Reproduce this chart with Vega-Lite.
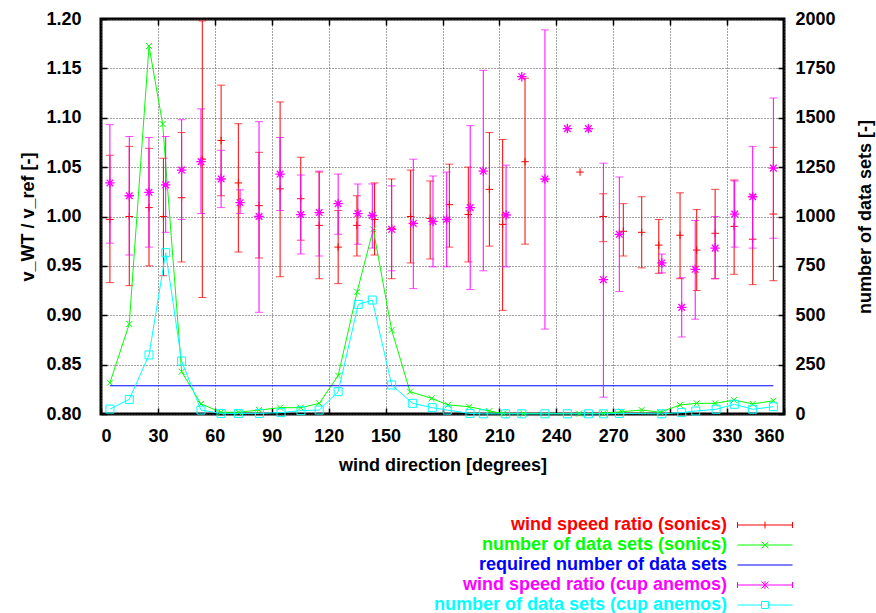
{
  "$schema": "https://vega.github.io/schema/vega-lite/v6.json",
  "width": 683,
  "height": 395,
  "autosize": {"type": "none"},
  "padding": {"left": 101, "top": 19, "right": 92, "bottom": 199},
  "config": {
    "font": "Liberation Sans",
    "view": {"stroke": "black", "strokeWidth": 3},
    "axis": {
      "labelFont": "Liberation Sans", "labelFontSize": 18, "labelFontWeight": "bold", "labelColor": "black",
      "titleFont": "Liberation Sans", "titleFontSize": 18, "titleFontWeight": "bold", "titleColor": "black",
      "domain": false, "tickColor": "black", "tickWidth": 1.5, "tickSize": -6,
      "gridColor": "#444444", "gridDash": [1, 2], "gridWidth": 1
    },
    "legend": {
      "orient": "none", "legendX": 655, "legendY": 497, "padding": 0, "rowPadding": 2,
      "labelOffset": -47, "labelAlign": "right", "symbolSize": 100, "symbolStrokeWidth": 1,
      "labelFont": "Liberation Sans", "labelFontSize": 18, "labelFontWeight": "bold", "labelLimit": 500
    }
  },
  "datasets": {
    "sonic": [
      {"dir": 4.7, "mean": 0.997, "low": 0.933, "high": 1.062, "series": "wind speed ratio (sonics)"},
      {"dir": 14.9, "mean": 1.000, "low": 0.930, "high": 1.071, "series": "wind speed ratio (sonics)"},
      {"dir": 25.3, "mean": 1.009, "low": 0.950, "high": 1.069, "series": "wind speed ratio (sonics)"},
      {"dir": 32.9, "mean": 1.000, "low": 0.940, "high": 1.059, "series": "wind speed ratio (sonics)"},
      {"dir": 42.5, "mean": 1.019, "low": 0.954, "high": 1.085, "series": "wind speed ratio (sonics)"},
      {"dir": 53.4, "mean": 1.058, "low": 0.918, "high": 1.198, "series": "wind speed ratio (sonics)"},
      {"dir": 63.3, "mean": 1.077, "low": 1.021, "high": 1.133, "series": "wind speed ratio (sonics)"},
      {"dir": 72.4, "mean": 1.034, "low": 0.964, "high": 1.094, "series": "wind speed ratio (sonics)"},
      {"dir": 83.3, "mean": 1.011, "low": 0.958, "high": 1.065, "series": "wind speed ratio (sonics)"},
      {"dir": 94.4, "mean": 1.028, "low": 0.939, "high": 1.116, "series": "wind speed ratio (sonics)"},
      {"dir": 105.3, "mean": 1.018, "low": 0.976, "high": 1.060, "series": "wind speed ratio (sonics)"},
      {"dir": 115.0, "mean": 0.991, "low": 0.937, "high": 1.045, "series": "wind speed ratio (sonics)"},
      {"dir": 125.0, "mean": 0.969, "low": 0.932, "high": 1.006, "series": "wind speed ratio (sonics)"},
      {"dir": 134.9, "mean": 0.991, "low": 0.960, "high": 1.021, "series": "wind speed ratio (sonics)"},
      {"dir": 144.2, "mean": 0.997, "low": 0.961, "high": 1.034, "series": "wind speed ratio (sonics)"},
      {"dir": 153.2, "mean": 0.988, "low": 0.937, "high": 1.038, "series": "wind speed ratio (sonics)"},
      {"dir": 163.2, "mean": 1.000, "low": 0.953, "high": 1.047, "series": "wind speed ratio (sonics)"},
      {"dir": 173.5, "mean": 0.998, "low": 0.957, "high": 1.036, "series": "wind speed ratio (sonics)"},
      {"dir": 183.6, "mean": 1.012, "low": 0.969, "high": 1.053, "series": "wind speed ratio (sonics)"},
      {"dir": 193.6, "mean": 1.002, "low": 0.954, "high": 1.050, "series": "wind speed ratio (sonics)"},
      {"dir": 204.7, "mean": 1.0275, "low": 0.970, "high": 1.085, "series": "wind speed ratio (sonics)"},
      {"dir": 211.7, "mean": 0.992, "low": 0.905, "high": 1.078, "series": "wind speed ratio (sonics)"},
      {"dir": 223.5, "mean": 1.0555, "low": 0.972, "high": 1.140, "series": "wind speed ratio (sonics)"},
      {"dir": 252.5, "mean": 1.045, "low": null, "high": null, "series": "wind speed ratio (sonics)"},
      {"dir": 264.7, "mean": 1.000, "low": 0.9745, "high": 1.023, "series": "wind speed ratio (sonics)"},
      {"dir": 275.3, "mean": 0.985, "low": 0.960, "high": 1.013, "series": "wind speed ratio (sonics)"},
      {"dir": 285.0, "mean": 0.984, "low": 0.948, "high": 1.020, "series": "wind speed ratio (sonics)"},
      {"dir": 294.0, "mean": 0.971, "low": 0.9425, "high": 0.997, "series": "wind speed ratio (sonics)"},
      {"dir": 305.2, "mean": 0.981, "low": 0.937, "high": 1.024, "series": "wind speed ratio (sonics)"},
      {"dir": 314.0, "mean": 0.966, "low": 0.925, "high": 1.007, "series": "wind speed ratio (sonics)"},
      {"dir": 323.7, "mean": 0.983, "low": 0.937, "high": 1.0275, "series": "wind speed ratio (sonics)"},
      {"dir": 333.7, "mean": 0.990, "low": 0.9415, "high": 1.037, "series": "wind speed ratio (sonics)"},
      {"dir": 343.5, "mean": 0.977, "low": 0.931, "high": 1.022, "series": "wind speed ratio (sonics)"},
      {"dir": 354.4, "mean": 1.0025, "low": 0.935, "high": 1.070, "series": "wind speed ratio (sonics)"}
    ],
    "cup": [
      {"dir": 4.7, "mean": 1.034, "low": 0.973, "high": 1.093, "series": "wind speed ratio (cup anemos)"},
      {"dir": 14.9, "mean": 1.021, "low": 0.961, "high": 1.081, "series": "wind speed ratio (cup anemos)"},
      {"dir": 25.3, "mean": 1.0245, "low": 0.969, "high": 1.080, "series": "wind speed ratio (cup anemos)"},
      {"dir": 34.1, "mean": 1.032, "low": 0.984, "high": 1.081, "series": "wind speed ratio (cup anemos)"},
      {"dir": 42.5, "mean": 1.047, "low": 0.997, "high": 1.098, "series": "wind speed ratio (cup anemos)"},
      {"dir": 52.7, "mean": 1.0555, "low": 1.003, "high": 1.109, "series": "wind speed ratio (cup anemos)"},
      {"dir": 63.3, "mean": 1.038, "low": 1.009, "high": 1.067, "series": "wind speed ratio (cup anemos)"},
      {"dir": 73.3, "mean": 1.014, "low": 1.003, "high": 1.027, "series": "wind speed ratio (cup anemos)"},
      {"dir": 83.3, "mean": 1.000, "low": 0.903, "high": 1.096, "series": "wind speed ratio (cup anemos)"},
      {"dir": 94.4, "mean": 1.043, "low": 1.006, "high": 1.080, "series": "wind speed ratio (cup anemos)"},
      {"dir": 105.3, "mean": 1.002, "low": 0.962, "high": 1.042, "series": "wind speed ratio (cup anemos)"},
      {"dir": 115.0, "mean": 1.004, "low": 0.960, "high": 1.046, "series": "wind speed ratio (cup anemos)"},
      {"dir": 125.0, "mean": 1.013, "low": 0.982, "high": 1.043, "series": "wind speed ratio (cup anemos)"},
      {"dir": 135.4, "mean": 1.003, "low": 0.972, "high": 1.033, "series": "wind speed ratio (cup anemos)"},
      {"dir": 143.0, "mean": 1.001, "low": 0.968, "high": 1.033, "series": "wind speed ratio (cup anemos)"},
      {"dir": 153.2, "mean": 0.987, "low": 0.945, "high": 1.031, "series": "wind speed ratio (cup anemos)"},
      {"dir": 164.6, "mean": 0.993, "low": 0.927, "high": 1.058, "series": "wind speed ratio (cup anemos)"},
      {"dir": 175.0, "mean": 0.995, "low": 0.949, "high": 1.041, "series": "wind speed ratio (cup anemos)"},
      {"dir": 182.2, "mean": 0.997, "low": 0.949, "high": 1.045, "series": "wind speed ratio (cup anemos)"},
      {"dir": 194.6, "mean": 1.009, "low": 0.926, "high": 1.092, "series": "wind speed ratio (cup anemos)"},
      {"dir": 201.5, "mean": 1.046, "low": 0.945, "high": 1.148, "series": "wind speed ratio (cup anemos)"},
      {"dir": 213.5, "mean": 1.0015, "low": 0.949, "high": 1.052, "series": "wind speed ratio (cup anemos)"},
      {"dir": 221.8, "mean": 1.1416, "low": null, "high": null, "series": "wind speed ratio (cup anemos)"},
      {"dir": 234.0, "mean": 1.038, "low": 0.886, "high": 1.189, "series": "wind speed ratio (cup anemos)"},
      {"dir": 245.8, "mean": 1.089, "low": null, "high": null, "series": "wind speed ratio (cup anemos)"},
      {"dir": 256.9, "mean": 1.089, "low": null, "high": null, "series": "wind speed ratio (cup anemos)"},
      {"dir": 264.8, "mean": 0.936, "low": 0.817, "high": 1.054, "series": "wind speed ratio (cup anemos)"},
      {"dir": 273.2, "mean": 0.982, "low": 0.924, "high": 1.040, "series": "wind speed ratio (cup anemos)"},
      {"dir": 295.6, "mean": 0.953, "low": 0.943, "high": 0.962, "series": "wind speed ratio (cup anemos)"},
      {"dir": 306.1, "mean": 0.908, "low": 0.878, "high": 0.938, "series": "wind speed ratio (cup anemos)"},
      {"dir": 313.2, "mean": 0.9465, "low": 0.896, "high": 0.996, "series": "wind speed ratio (cup anemos)"},
      {"dir": 323.7, "mean": 0.968, "low": 0.937, "high": 1.000, "series": "wind speed ratio (cup anemos)"},
      {"dir": 334.0, "mean": 1.0025, "low": 0.969, "high": 1.036, "series": "wind speed ratio (cup anemos)"},
      {"dir": 343.5, "mean": 1.020, "low": 0.968, "high": 1.071, "series": "wind speed ratio (cup anemos)"},
      {"dir": 354.4, "mean": 1.049, "low": 0.978, "high": 1.120, "series": "wind speed ratio (cup anemos)"}
    ],
    "nsonic": [
      {"dir": 4.7, "n": 158, "series": "number of data sets (sonics)"},
      {"dir": 14.9, "n": 456, "series": "number of data sets (sonics)"},
      {"dir": 25.3, "n": 1863, "series": "number of data sets (sonics)"},
      {"dir": 32.5, "n": 1468, "series": "number of data sets (sonics)"},
      {"dir": 42.5, "n": 214, "series": "number of data sets (sonics)"},
      {"dir": 52.7, "n": 51, "series": "number of data sets (sonics)"},
      {"dir": 63.3, "n": 9, "series": "number of data sets (sonics)"},
      {"dir": 72.4, "n": 9, "series": "number of data sets (sonics)"},
      {"dir": 83.3, "n": 20, "series": "number of data sets (sonics)"},
      {"dir": 94.4, "n": 32, "series": "number of data sets (sonics)"},
      {"dir": 105.3, "n": 32, "series": "number of data sets (sonics)"},
      {"dir": 115.0, "n": 54, "series": "number of data sets (sonics)"},
      {"dir": 125.0, "n": 194, "series": "number of data sets (sonics)"},
      {"dir": 135.0, "n": 619, "series": "number of data sets (sonics)"},
      {"dir": 143.5, "n": 935, "series": "number of data sets (sonics)"},
      {"dir": 153.2, "n": 425, "series": "number of data sets (sonics)"},
      {"dir": 162.9, "n": 113, "series": "number of data sets (sonics)"},
      {"dir": 174.3, "n": 79, "series": "number of data sets (sonics)"},
      {"dir": 183.0, "n": 46, "series": "number of data sets (sonics)"},
      {"dir": 194.0, "n": 37, "series": "number of data sets (sonics)"},
      {"dir": 204.7, "n": 15, "series": "number of data sets (sonics)"},
      {"dir": 212.0, "n": 3, "series": "number of data sets (sonics)"},
      {"dir": 222.6, "n": 2, "series": "number of data sets (sonics)"},
      {"dir": 252.0, "n": 2, "series": "number of data sets (sonics)"},
      {"dir": 264.8, "n": 3, "series": "number of data sets (sonics)"},
      {"dir": 274.5, "n": 12, "series": "number of data sets (sonics)"},
      {"dir": 285.0, "n": 20, "series": "number of data sets (sonics)"},
      {"dir": 294.7, "n": 9, "series": "number of data sets (sonics)"},
      {"dir": 305.2, "n": 46, "series": "number of data sets (sonics)"},
      {"dir": 314.0, "n": 54, "series": "number of data sets (sonics)"},
      {"dir": 323.7, "n": 54, "series": "number of data sets (sonics)"},
      {"dir": 333.7, "n": 71, "series": "number of data sets (sonics)"},
      {"dir": 343.5, "n": 51, "series": "number of data sets (sonics)"},
      {"dir": 354.4, "n": 67, "series": "number of data sets (sonics)"}
    ],
    "ncup": [
      {"dir": 4.7, "n": 25, "series": "number of data sets (cup anemos)"},
      {"dir": 14.9, "n": 74, "series": "number of data sets (cup anemos)"},
      {"dir": 25.3, "n": 299, "series": "number of data sets (cup anemos)"},
      {"dir": 34.1, "n": 817, "series": "number of data sets (cup anemos)"},
      {"dir": 42.5, "n": 268, "series": "number of data sets (cup anemos)"},
      {"dir": 52.7, "n": 20, "series": "number of data sets (cup anemos)"},
      {"dir": 63.3, "n": 3, "series": "number of data sets (cup anemos)"},
      {"dir": 72.4, "n": 3, "series": "number of data sets (cup anemos)"},
      {"dir": 83.5, "n": 3, "series": "number of data sets (cup anemos)"},
      {"dir": 94.9, "n": 7, "series": "number of data sets (cup anemos)"},
      {"dir": 105.4, "n": 17, "series": "number of data sets (cup anemos)"},
      {"dir": 115.0, "n": 20, "series": "number of data sets (cup anemos)"},
      {"dir": 125.0, "n": 113, "series": "number of data sets (cup anemos)"},
      {"dir": 135.6, "n": 555, "series": "number of data sets (cup anemos)"},
      {"dir": 143.0, "n": 577, "series": "number of data sets (cup anemos)"},
      {"dir": 153.2, "n": 147, "series": "number of data sets (cup anemos)"},
      {"dir": 164.3, "n": 54, "series": "number of data sets (cup anemos)"},
      {"dir": 174.6, "n": 32, "series": "number of data sets (cup anemos)"},
      {"dir": 182.5, "n": 20, "series": "number of data sets (cup anemos)"},
      {"dir": 194.5, "n": 3, "series": "number of data sets (cup anemos)"},
      {"dir": 201.5, "n": 1, "series": "number of data sets (cup anemos)"},
      {"dir": 213.3, "n": 1, "series": "number of data sets (cup anemos)"},
      {"dir": 221.8, "n": 1, "series": "number of data sets (cup anemos)"},
      {"dir": 234.0, "n": 1, "series": "number of data sets (cup anemos)"},
      {"dir": 245.8, "n": 1, "series": "number of data sets (cup anemos)"},
      {"dir": 256.9, "n": 1, "series": "number of data sets (cup anemos)"},
      {"dir": 264.8, "n": 1, "series": "number of data sets (cup anemos)"},
      {"dir": 273.2, "n": 3, "series": "number of data sets (cup anemos)"},
      {"dir": 295.6, "n": 1, "series": "number of data sets (cup anemos)"},
      {"dir": 306.1, "n": 7, "series": "number of data sets (cup anemos)"},
      {"dir": 313.5, "n": 15, "series": "number of data sets (cup anemos)"},
      {"dir": 324.2, "n": 24, "series": "number of data sets (cup anemos)"},
      {"dir": 333.8, "n": 49, "series": "number of data sets (cup anemos)"},
      {"dir": 343.5, "n": 24, "series": "number of data sets (cup anemos)"},
      {"dir": 354.4, "n": 37, "series": "number of data sets (cup anemos)"}
    ],
    "req": [
      {"dir": 4.7, "n": 143, "series": "required number of data sets"},
      {"dir": 354.4, "n": 143, "series": "required number of data sets"}
    ]
  },
  "layer": [
    {
      "layer": [
        {
          "data": {"name": "sonic"},
          "transform": [{"filter": "isValid(datum.low)"}],
          "mark": {"type": "rule", "strokeWidth": 1},
          "encoding": {
            "x": {"field": "dir", "type": "quantitative", "scale": {"domain": [0, 360], "nice": false},
              "axis": {"orient": "bottom", "values": [0, 30, 60, 90, 120, 150, 180, 210, 240, 270, 300, 330, 360], "grid": true, "labelPadding": 19, "title": "wind direction [degrees]", "titlePadding": 11}},
            "y": {"field": "low", "type": "quantitative", "scale": {"domain": [0.8, 1.2], "nice": false, "zero": false},
              "axis": {"orient": "left", "values": [0.8, 0.85, 0.9, 0.95, 1.0, 1.05, 1.1, 1.15, 1.2], "format": ".2f", "grid": true, "labelPadding": 26, "title": "v_WT / v_ref [-]", "titlePadding": 8}},
            "y2": {"field": "high"},
            "color": {"field": "series", "type": "nominal",
              "scale": {"domain": ["wind speed ratio (sonics)", "number of data sets (sonics)", "required number of data sets", "wind speed ratio (cup anemos)", "number of data sets (cup anemos)"], "range": ["#ff0000", "#00ff00", "#0000ff", "#ff00ff", "#00ffff"]},
              "legend": {
                "title": null,
                "encode": {
                  "symbols": {"update": {
                    "shape": {"signal": "datum.value == 'wind speed ratio (sonics)' ? 'M-5.5,-0.6L-5.5,0.6M-5.5,0L5.5,0M5.5,-0.6L5.5,0.6M0,-0.7L0,0.7' : datum.value == 'number of data sets (sonics)' ? 'M-5.5,0L5.5,0M-0.7,-0.7L0.7,0.7M-0.7,0.7L0.7,-0.7' : datum.value == 'required number of data sets' ? 'M-5.5,0L5.5,0' : datum.value == 'wind speed ratio (cup anemos)' ? 'M-5.5,-0.6L-5.5,0.6M-5.5,0L5.5,0M5.5,-0.6L5.5,0.6M0,-0.8L0,0.8M-0.7,-0.7L0.7,0.7M-0.7,0.7L0.7,-0.7' : 'M-5.5,0L-0.7,0M0.7,0L5.5,0M-0.7,-0.7L0.7,-0.7L0.7,0.7L-0.7,0.7Z'"},
                    "size": {"value": 100},
                    "strokeWidth": {"value": 1},
                    "fill": {"value": "transparent"},
                    "fillOpacity": {"value": 0},
                    "stroke": {"scale": "color", "field": "value"},
                    "opacity": {"value": 1}
                  }},
                  "labels": {"update": {"fill": {"scale": "color", "field": "value"}}}
                }
              }
            }
          }
        },
        {
          "data": {"name": "sonic"},
          "transform": [{"filter": "isValid(datum.low)"}],
          "mark": {"type": "tick", "orient": "horizontal", "size": 8, "thickness": 1},
          "encoding": {
            "x": {"field": "dir", "type": "quantitative"},
            "y": {"field": "low", "type": "quantitative"},
            "color": {"field": "series", "type": "nominal"}
          }
        },
        {
          "data": {"name": "sonic"},
          "transform": [{"filter": "isValid(datum.high)"}],
          "mark": {"type": "tick", "orient": "horizontal", "size": 8, "thickness": 1},
          "encoding": {
            "x": {"field": "dir", "type": "quantitative"},
            "y": {"field": "high", "type": "quantitative"},
            "color": {"field": "series", "type": "nominal"}
          }
        },
        {
          "data": {"name": "sonic"},
          "mark": {"type": "point", "shape": "M-1,0L1,0M0,-1L0,1", "size": 56, "filled": false, "strokeWidth": 1, "opacity": 1},
          "encoding": {
            "x": {"field": "dir", "type": "quantitative"},
            "y": {"field": "mean", "type": "quantitative"},
            "color": {"field": "series", "type": "nominal"}
          }
        }
      ]
    },
    {
      "layer": [
        {
          "data": {"name": "nsonic"},
          "mark": {"type": "line", "strokeWidth": 1},
          "encoding": {
            "x": {"field": "dir", "type": "quantitative", "scale": {"domain": [0, 360], "nice": false},
              "axis": {"orient": "top", "values": [30, 60, 90, 120, 150, 180, 210, 240, 270, 300, 330], "labels": false, "grid": false, "title": null}},
            "y": {"field": "n", "type": "quantitative", "scale": {"domain": [0, 2000], "nice": false},
              "axis": {"orient": "right", "values": [0, 250, 500, 750, 1000, 1250, 1500, 1750, 2000], "format": "d", "grid": false, "labelPadding": 17, "title": "number of data sets [-]", "titleAngle": 270, "titlePadding": 39}},
            "color": {"field": "series", "type": "nominal"}
          }
        },
        {
          "data": {"name": "nsonic"},
          "mark": {"type": "point", "shape": "M-1,-1L1,1M-1,1L1,-1", "size": 36, "filled": false, "strokeWidth": 1, "opacity": 1},
          "encoding": {
            "x": {"field": "dir", "type": "quantitative"},
            "y": {"field": "n", "type": "quantitative"},
            "color": {"field": "series", "type": "nominal"}
          }
        },
        {
          "data": {"name": "req"},
          "mark": {"type": "line", "strokeWidth": 1},
          "encoding": {
            "x": {"field": "dir", "type": "quantitative"},
            "y": {"field": "n", "type": "quantitative"},
            "color": {"field": "series", "type": "nominal"}
          }
        }
      ]
    },
    {
      "layer": [
        {
          "data": {"name": "cup"},
          "transform": [{"filter": "isValid(datum.low)"}],
          "mark": {"type": "rule", "strokeWidth": 1},
          "encoding": {
            "x": {"field": "dir", "type": "quantitative", "scale": {"domain": [0, 360], "nice": false}, "axis": null},
            "y": {"field": "low", "type": "quantitative", "scale": {"domain": [0.8, 1.2], "nice": false, "zero": false}, "axis": null},
            "y2": {"field": "high"},
            "color": {"field": "series", "type": "nominal"}
          }
        },
        {
          "data": {"name": "cup"},
          "transform": [{"filter": "isValid(datum.low)"}],
          "mark": {"type": "tick", "orient": "horizontal", "size": 8, "thickness": 1},
          "encoding": {
            "x": {"field": "dir", "type": "quantitative"},
            "y": {"field": "low", "type": "quantitative"},
            "color": {"field": "series", "type": "nominal"}
          }
        },
        {
          "data": {"name": "cup"},
          "transform": [{"filter": "isValid(datum.high)"}],
          "mark": {"type": "tick", "orient": "horizontal", "size": 8, "thickness": 1},
          "encoding": {
            "x": {"field": "dir", "type": "quantitative"},
            "y": {"field": "high", "type": "quantitative"},
            "color": {"field": "series", "type": "nominal"}
          }
        },
        {
          "data": {"name": "cup"},
          "mark": {"type": "point", "shape": "M-1,0L1,0M0,-1L0,1M-0.7,-0.7L0.7,0.7M-0.7,0.7L0.7,-0.7", "size": 90, "filled": false, "strokeWidth": 1.3, "opacity": 1},
          "encoding": {
            "x": {"field": "dir", "type": "quantitative"},
            "y": {"field": "mean", "type": "quantitative"},
            "color": {"field": "series", "type": "nominal"}
          }
        }
      ]
    },
    {
      "layer": [
        {
          "data": {"name": "ncup"},
          "mark": {"type": "line", "strokeWidth": 1},
          "encoding": {
            "x": {"field": "dir", "type": "quantitative", "scale": {"domain": [0, 360], "nice": false}, "axis": null},
            "y": {"field": "n", "type": "quantitative", "scale": {"domain": [0, 2000], "nice": false}, "axis": null},
            "color": {"field": "series", "type": "nominal"}
          }
        },
        {
          "data": {"name": "ncup"},
          "mark": {"type": "point", "shape": "square", "size": 64, "filled": false, "strokeWidth": 1, "opacity": 1},
          "encoding": {
            "x": {"field": "dir", "type": "quantitative"},
            "y": {"field": "n", "type": "quantitative"},
            "color": {"field": "series", "type": "nominal"}
          }
        }
      ]
    }
  ],
  "resolve": {"scale": {"y": "independent"}, "axis": {"x": "independent", "y": "independent"}}
}
